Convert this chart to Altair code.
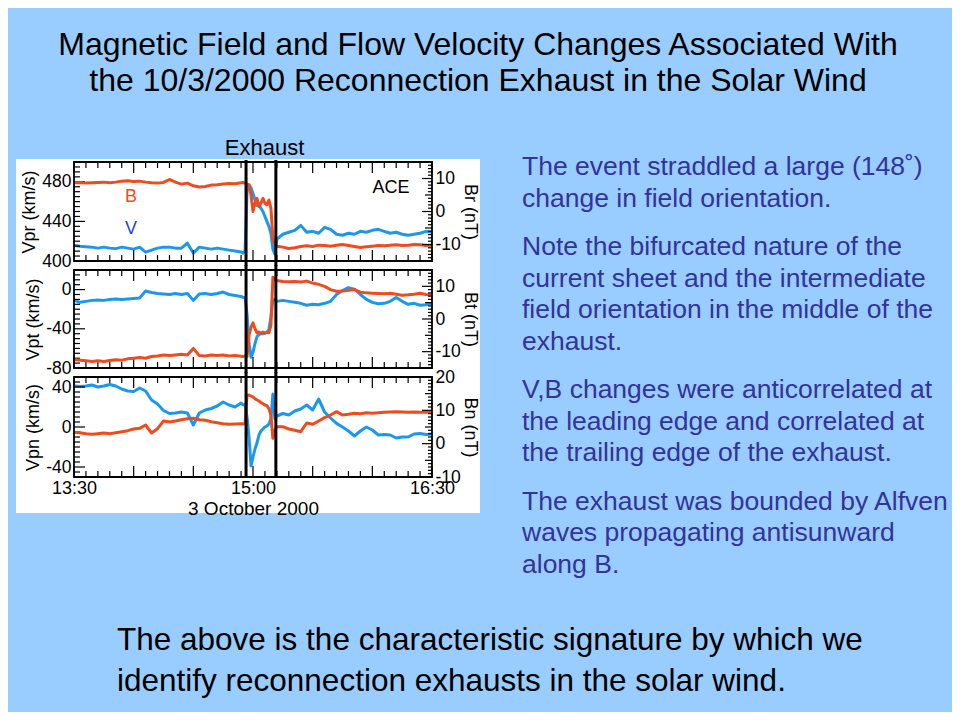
import altair as alt
import pandas as pd

# ---------------- data ----------------
# sample times: minutes after 13:30 UT, 3 October 2000
minutes = [0, 3, 6, 9, 12, 15, 18, 21, 24, 27, 30, 33, 36, 39, 42, 45, 48, 51, 54, 57,
           60, 63, 66, 69, 72, 75, 78, 81, 84,
           85, 86, 87, 88, 89, 90, 91, 92, 93, 94, 95, 96, 97, 98, 99, 100, 101, 102,
           105, 108, 111, 114, 117, 120, 123, 126, 129, 132, 135, 138, 141, 144, 147, 150,
           153, 156, 159, 162, 165, 168, 171, 174, 177, 180]

vpr = [416, 415, 414.5, 414, 413, 414, 413, 412.5, 414, 413, 412, 414, 409, 411, 413, 414, 414, 413, 413, 418,
       408, 414, 413, 412, 413, 412, 411, 410, 409,
       408, 410, 470, 477, 474, 468, 462, 456, 458, 453, 450, 445, 440, 435, 428, 412, 407, 422,
       427, 429, 431, 436, 429, 430, 428, 434, 432, 427, 426, 428, 427, 430, 429, 431,
       432, 430, 428, 429, 427, 426, 427, 428, 430, 429]
br = [8.7, 8.8, 8.6, 8.7, 8.8, 8.9, 8.7, 8.9, 9.2, 9.3, 9.1, 9.2, 8.9, 8.7, 8.6, 8.8, 9.7, 8.9, 8.3, 8.6,
      7.8, 7.4, 7.6, 8.0, 8.1, 8.3, 8.5, 8.4, 8.7,
      8.8, 8.5, 8.3, 8.0, 5.0, 0.0, 2.5, 4.0, 1.5, 2.5, 4.0, 2.5, 2.0, 3.5, 1.0, -8.0, -10.0, -10.5,
      -10.8, -11.2, -11.0, -10.6, -10.4, -10.6, -10.2, -10.3, -10.5, -10.2, -10.0, -10.3, -10.6, -10.9, -10.7, -10.5,
      -10.3, -10.4, -10.2, -10.1, -10.3, -10.2, -10.0, -10.1, -10.3, -10.2]

vpt = [-11, -13, -12, -11, -10.5, -11, -10, -9.5, -10, -9.5, -9, -8.5, -1.5, -3, -4, -4.5, -5, -4, -5, -4,
       -11, -4.5, -4, -5, -4, -2.5, -5, -6, -7,
       -8, -8, -25, -55, -69, -64, -55, -48, -46, -45, -45, -44.5, -43.5, -41, -28, -11, -10, -12,
       -11, -12, -13, -14, -16, -15, -15.5, -14, -12, -5, -1, 2, 0.5, -5, -10, -13,
       -14.5, -14, -12, -8, -12, -15, -14, -16, -15.5, -14]
bt = [-12.5, -12.6, -12.8, -13, -12.8, -13, -12.7, -12.5, -12.6, -12.2, -12, -11.8, -12, -11.5, -11.3, -11, -11.2, -11, -10.8, -11,
      -9, -11.2, -11.3, -11, -11.2, -11, -11.3, -11.2, -11.4,
      -11.5, -11.3, -11.5, -5, -2.5, -1.2, -3, -4.2, -4, -4.3, -4, -4.3, -4.1, -4.2, -2, 12.8, 12.2, 11.8,
      11.5, 11.4, 11.5, 11.3, 11.6, 11.0, 10.6, 10.0, 9.0, 8.5, 8.6, 8.8, 9.0, 8.2, 8.0, 7.9,
      7.8, 7.7, 7.9, 7.6, 7.3, 7.4, 7.6, 7.9, 7.5, 7.4]

vpn = [41, 40.5, 41, 42, 40, 41, 42.5, 41, 38, 36, 35.5, 39, 36, 27, 23, 16.5, 13.5, 14, 15, 14,
       2, 14, 17, 18.5, 21, 25, 22, 20, 24,
       22, 23, 10, -10, -39, -30, -22, -16, -8, -4, -2, 0, 1, 3, 8, 33, 8, 11,
       13.5, 12, 16, 18, 22, 17, 28, 15, 9, 3.6, 0, -4, -9, -4, 0, -3,
       -8, -7.5, -8, -11, -10, -10, -7, -6.5, -7.5, -7]
bn = [3.4, 3.3, 3.0, 2.8, 3.0, 3.2, 3.0, 3.3, 3.6, 3.9, 4.4, 4.6, 5.6, 3.2, 4.5, 6.8, 6.5, 6.8, 7.2, 7.5,
      7.6, 7.2, 7.0, 6.6, 6.3, 6.0, 5.8, 5.9, 6.0,
      5.9, 6.0, 14.5, 14.6, 14.3, 14.0, 13.5, 13.1, 12.8, 12.3, 12.0, 11.6, 11.4, 10.5, 8.5, 1.6, 4.0, 5.1,
      5.1, 4.4, 4.0, 3.6, 6.2, 5.8, 6.8, 7.8, 8.6, 9.6, 8.6, 8.8, 9.1, 9.0, 9.3, 9.1,
      9.3, 9.4, 9.5, 9.6, 9.5, 9.4, 9.5, 9.4, 9.4, 9.4]

exhaust_edges = [86.5, 101.5]          # leading / trailing edge (minutes after 13:30)
x_tick_values = [0, 90, 180]
x_tick_labels = ["13:30", "15:00", "16:30"]

title_lines = ["Magnetic Field and Flow Velocity Changes Associated With",
               "the 10/3/2000 Reconnection Exhaust in the Solar Wind"]
para1 = ["The event straddled a large (148\u02da)", "change in field orientation."]
para2 = ["Note the bifurcated nature of the", "current sheet and the intermediate",
         "field orientation in the middle of the", "exhaust."]
para3 = ["V,B changes were anticorrelated at", "the leading edge and correlated at",
         "the trailing edge of the exhaust."]
para4 = ["The exhaust was bounded by Alfven", "waves propagating antisunward", "along B."]
bottom_lines = ["The above is the characteristic signature by which we",
                "identify reconnection exhausts in the solar wind."]

# ---------------- styling ----------------
BG = "#99CCFF"
RED = "#EE4B1F"
BLUE = "#1C97EE"
VLAB = "#1E3FD8"
TXT_BLUE = "#333399"
FONT = "Liberation Sans"
W = 358
HEIGHTS = [99, 98, 100]
GAP = 9

one = pd.DataFrame({"k": [0]})
x_ticks_df = pd.DataFrame({"min": list(range(0, 181, 6))})
x_major = x_ticks_df[x_ticks_df["min"] % 30 == 0]
x_minor = x_ticks_df[x_ticks_df["min"] % 30 != 0]
edges_df = pd.DataFrame({"min": exhaust_edges})

label_expr = " : ".join(
    [f"datum.value == {v} ? '{l}'" for v, l in zip(x_tick_values[:-1], x_tick_labels[:-1])]
) + f" : '{x_tick_labels[-1]}'"
hyphen_expr = "(datum.value < 0 ? '-' : '') + abs(datum.value)"


def text_layer(lines, x, y, size, color, align="left", lh=None):
    return alt.Chart(one).mark_text(
        font=FONT, fontSize=size, color=color, align=align, baseline="alphabetic",
        lineHeight=lh if lh else size * 1.2
    ).encode(x=alt.value(x), y=alt.value(y), text=alt.value(lines))


def panel(vvals, bvals, vtitle, btitle, vdom, bdom, vlabels, blabels, h, show_x,
          top_ext, bot_ext, notes=None):
    df = pd.DataFrame({"min": minutes, "v": vvals, "b": bvals})
    if show_x:
        xaxis = alt.Axis(values=x_tick_values, labelExpr=label_expr, title="3 October 2000",
                         labelPadding=2, titlePadding=2, titleFontSize=19, labelFlush=False)
    else:
        xaxis = None
    x = alt.X("min:Q", scale=alt.Scale(domain=[0, 180], nice=False, zero=False), axis=xaxis)
    yv = alt.Y("v:Q", scale=alt.Scale(domain=vdom, nice=False, zero=False),
               axis=alt.Axis(orient="left", values=vlabels, title=vtitle, labelExpr=hyphen_expr,
                             labelFontSize=17.5, labelPadding=3, titlePadding=3, zindex=2))
    yb = alt.Y("b:Q", scale=alt.Scale(domain=bdom, nice=False, zero=False),
               axis=alt.Axis(orient="right", values=blabels, title=btitle, labelExpr=hyphen_expr,
                             labelFontSize=17.5, labelPadding=3, titlePadding=0, zindex=2))

    # inward tick marks
    vt = pd.DataFrame({"v": list(range(int(vdom[0]), int(vdom[1]) + 1, 5))})
    v_major = vt[vt["v"] % 40 == 0]
    v_minor = vt[vt["v"] % 40 != 0]
    bt_ = pd.DataFrame({"b": list(range(int(bdom[0]), int(bdom[1]) + 1))})
    b10 = bt_[bt_["b"] % 10 == 0]
    b5 = bt_[(bt_["b"] % 5 == 0) & (bt_["b"] % 10 != 0)]
    b1 = bt_[bt_["b"] % 5 != 0]

    tick = dict(color="black", strokeWidth=1.2)
    vlayers = [
        alt.Chart(df).mark_line(color=BLUE, strokeWidth=3, strokeJoin="round").encode(x=x, y=yv),
        alt.Chart(v_major).mark_rule(**tick).encode(y=yv, x=alt.value(0), x2=alt.value(11)),
        alt.Chart(v_minor).mark_rule(**tick).encode(y=yv, x=alt.value(0), x2=alt.value(6)),
        alt.Chart(x_major).mark_rule(**tick).encode(x=x, y=alt.value(0), y2=alt.value(11)),
        alt.Chart(x_minor).mark_rule(**tick).encode(x=x, y=alt.value(0), y2=alt.value(6)),
        alt.Chart(x_major).mark_rule(**tick).encode(x=x, y=alt.value(h), y2=alt.value(h - 11)),
        alt.Chart(x_minor).mark_rule(**tick).encode(x=x, y=alt.value(h), y2=alt.value(h - 6)),
    ]
    if notes:
        vlayers += notes
    blayers = [
        alt.Chart(df).mark_line(color=RED, strokeWidth=3, strokeJoin="round").encode(x=x, y=yb),
        alt.Chart(b10).mark_rule(**tick).encode(y=yb, x=alt.value(W), x2=alt.value(W - 10)),
        alt.Chart(b5).mark_rule(**tick).encode(y=yb, x=alt.value(W), x2=alt.value(W - 7)),
        alt.Chart(b1).mark_rule(**tick).encode(y=yb, x=alt.value(W), x2=alt.value(W - 4)),
        alt.Chart(edges_df).mark_rule(color="black", strokeWidth=3).encode(
            x=x, y=alt.value(-top_ext), y2=alt.value(h + bot_ext)),
        alt.Chart(one).mark_rect(fillOpacity=0, stroke="black", strokeWidth=1.8).encode(
            x=alt.value(0), x2=alt.value(W), y=alt.value(0), y2=alt.value(h)),
    ]
    return alt.layer(alt.layer(*vlayers), alt.layer(*blayers)).resolve_scale(
        y="independent").properties(width=W, height=h)


# page decorations: their own (1px tall) view, origin at page (74, 152)
deco = alt.layer(
    alt.Chart(one).mark_rect(color=BG).encode(
        x=alt.value(-66), x2=alt.value(878), y=alt.value(-144), y2=alt.value(560)),
    alt.Chart(one).mark_rect(color="white").encode(
        x=alt.value(-58), x2=alt.value(406), y=alt.value(7), y2=alt.value(361)),
    text_layer(title_lines, 404, -97, 32, "black", align="center", lh=35.5),
    text_layer(para1, 448, 23, 26.5, TXT_BLUE, lh=31.7),
    text_layer(para2, 448, 103, 26.5, TXT_BLUE, lh=31.7),
    text_layer(para3, 448, 246, 26.5, TXT_BLUE, lh=31.7),
    text_layer(para4, 448, 357.5, 26.5, TXT_BLUE, lh=31.7),
    text_layer(bottom_lines, 43, 498, 31.5, "black", lh=41),
).properties(width=W, height=1)

notes = [
    text_layer("Exhaust", 190.5, -7, 22, "black", align="center"),
    alt.Chart(one).mark_text(font=FONT, fontSize=18, color=RED).encode(
        x=alt.value(57), y=alt.value(34.5), text=alt.value("B")),
    alt.Chart(one).mark_text(font=FONT, fontSize=18, color=VLAB).encode(
        x=alt.value(57), y=alt.value(67), text=alt.value("V")),
    alt.Chart(one).mark_text(font=FONT, fontSize=18, color="black").encode(
        x=alt.value(317), y=alt.value(26), text=alt.value("ACE")),
]

p1 = panel(vpr, br, "Vpr (km/s)", "Br (nT)", [400, 500], [-15, 15], [400, 440, 480], [-10, 0, 10],
           HEIGHTS[0], False, 2, 5, notes=notes)
p2 = panel(vpt, bt, "Vpt (km/s)", "Bt (nT)", [-80, 20], [-15, 15], [-80, -40, 0], [-10, 0, 10],
           HEIGHTS[1], False, 5, 5)
p3 = panel(vpn, bn, "Vpn (km/s)", "Bn (nT)", [-50, 50], [-10, 20], [-40, 0, 40], [-10, 0, 10, 20],
           HEIGHTS[2], True, 5, 0)

chart = alt.vconcat(deco, p1, p2, p3, spacing=GAP, bounds="flush").properties(
    padding=0, background=BG
).configure_view(stroke=None).configure_axis(
    labelFont=FONT, titleFont=FONT, labelFontSize=18, titleFontSize=18, titleFontWeight="normal",
    labelColor="black", titleColor="black", grid=False, ticks=False, domain=False,
    labelOverlap=False
)

chart.save("out.html", embed_options={"renderer": "svg", "actions": False})
